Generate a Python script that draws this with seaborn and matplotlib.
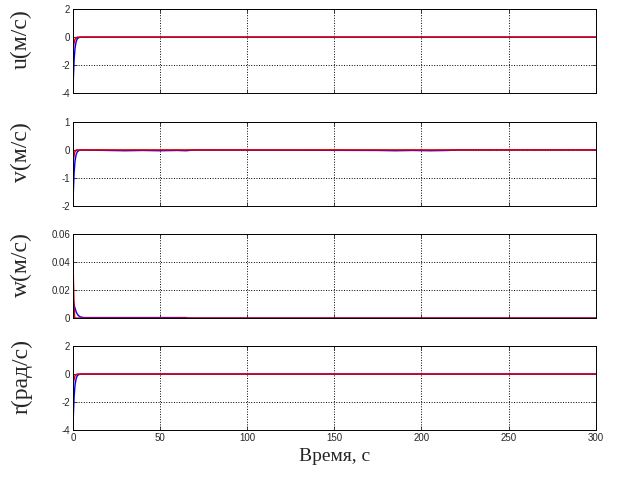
import numpy as np
import pandas as pd
import seaborn as sns
import matplotlib.pyplot as plt

# time points (s) and values
t_u_blue = [0, 0.3, 0.7, 1.2, 1.8, 2.5, 3.5, 5, 300]
u_blue = [-4.0, -2.8, -1.6, -0.8, -0.35, -0.12, -0.03, 0.0, 0.0]
t_u_red = [0, 0.5, 1.2, 2.5, 300]
u_red = [-1.2, -0.5, -0.15, 0.0, 0.0]

t_v_blue = [0, 0.3, 0.7, 1.2, 1.8, 2.5, 3.5, 5, 20, 30, 40, 50, 60, 65, 70,
            175, 185, 195, 205, 215, 220, 300]
v_blue = [-2.0, -1.4, -0.8, -0.4, -0.18, -0.07, -0.02, 0.0, -0.02, -0.03,
          -0.02, -0.03, -0.02, -0.03, 0.0, -0.02, -0.03, -0.02, -0.03, -0.02,
          0.0, 0.0]
t_v_red = [0, 0.4, 1.0, 2.0, 300]
v_red = [-0.7, -0.3, -0.08, 0.0, 0.0]

t_w_blue = [0, 0.5, 1, 1.5, 2, 3, 4, 6, 65, 66, 300]
w_blue = [0.014, 0.011, 0.008, 0.006, 0.004, 0.002, 0.001, 0.0004, 0.0004,
          0.0, 0.0]
t_w_red = [0, 0.2, 0.6, 1.0, 300]
w_red = [0.044, 0.03, 0.01, 0.0, 0.0]

t_r_blue = [0, 0.3, 0.7, 1.2, 1.8, 2.5, 3.5, 5, 300]
r_blue = [-4.0, -2.8, -1.6, -0.8, -0.35, -0.12, -0.03, 0.0, 0.0]
t_r_red = [0, 0.5, 1.2, 2.5, 300]
r_red = [-1.0, -0.45, -0.12, 0.0, 0.0]

ylabels = ["u(м/с)", "v(м/с)", "w(м/с)", "r(рад/с)"]
yticks = [[-4, -2, 0, 2], [-2, -1, 0, 1], [0, 0.02, 0.04, 0.06], [-4, -2, 0, 2]]
ytick_labels = [["-4", "-2", "0", "2"], ["-2", "-1", "0", "1"],
                ["0", "0.02", "0.04", "0.06"], ["-4", "-2", "0", "2"]]
xticks = [0, 50, 100, 150, 200, 250, 300]

series = [
    (t_u_blue, u_blue, t_u_red, u_red),
    (t_v_blue, v_blue, t_v_red, v_red),
    (t_w_blue, w_blue, t_w_red, w_red),
    (t_r_blue, r_blue, t_r_red, r_red),
]

sns.set_style("white")
plt.rcParams["font.family"] = ["Liberation Sans", "DejaVu Sans"]

fig = plt.figure(figsize=(6.18, 4.82), dpi=100)
left, width, height = 0.118, 0.846, 0.174
bottoms = [0.807, 0.573, 0.340, 0.108]

for i, (tb, yb, tr, yr) in enumerate(series):
    ax = fig.add_axes([left, bottoms[i], width, height])
    sns.lineplot(x=tb, y=yb, ax=ax, color="#0000ff", lw=1.0, estimator=None)
    sns.lineplot(x=tr, y=yr, ax=ax, color="#e00000", lw=1.1, estimator=None)
    ax.set_xlim(0, 300)
    ax.set_ylim(yticks[i][0], yticks[i][-1])
    ax.set_xticks(xticks)
    ax.set_yticks(yticks[i])
    ax.set_yticklabels(ytick_labels[i], fontsize=7)
    if i == 3:
        ax.set_xticklabels([str(x) for x in xticks], fontsize=7)
        ax.set_xlabel("Время, с", fontsize=14, family="Liberation Serif",
                      labelpad=4)
    else:
        ax.set_xticklabels([])
    ax.set_ylabel(ylabels[i], fontsize=17, family="Liberation Serif")
    ax.yaxis.set_label_coords(-0.078, 0.64)
    ax.grid(True, color="black", linestyle=":", linewidth=0.7)
    ax.tick_params(direction="in", length=3, width=0.6, pad=2,
                   top=True, right=True, bottom=True, left=True)
    for s in ax.spines.values():
        s.set_color("black")
        s.set_linewidth(0.7)

fig.savefig("out.png", dpi=100)
